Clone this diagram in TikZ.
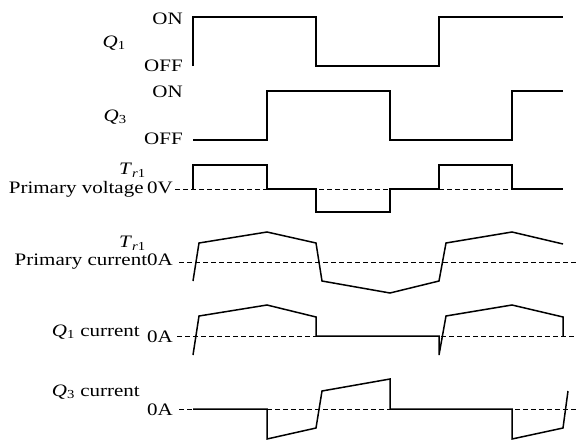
\documentclass[tikz,border=0pt]{standalone}
\usepackage{fontspec}
\setmainfont{Liberation Serif}
\usetikzlibrary{positioning}

\begin{document}
\begin{tikzpicture}[x=1pt,y=-1pt,
    wave/.style={line width=1.5pt,line join=miter},
    zero/.style={dash pattern=on 4.5pt off 3.5pt,line width=0.8pt},
    lbl/.style={font=\fontsize{17.5}{20}\selectfont,inner sep=0pt,xscale=1.2,anchor=east}]
  \useasboundingbox (0,0) rectangle (576,440);

  \foreach \name/\txt/\xx/\yy in {on1/ON/183/19, off1/OFF/183/66, q1/{\textit{Q}\textsubscript{1}}/126/43,
      on3/ON/183/92, off3/OFF/183/139, q3/{\textit{Q}\textsubscript{3}}/127/117,
      trv/{\textit{T}\textsubscript{\textit{r}1}}/146/170, pv/{Primary voltage\,0V}/173/189,
      tri/{\textit{T}\textsubscript{\textit{r}1}}/146/243, pc/{Primary current0A}/173/262,
      q1c/{\textit{Q}\textsubscript{1} current}/140/332, q1z/0A/173/337,
      q3c/{\textit{Q}\textsubscript{3} current}/140/392, q3z/0A/173/410}
    \node[lbl] (\name) at (\xx,\yy) {\txt};

  \coordinate (pvend) at (563,189);
  \coordinate (pcend) at (576,262);
  \coordinate (q1end) at (576,336);
  \coordinate (q3end) at (576,409);
  \draw[zero] ([xshift=2pt]pv.east) -- (pvend);
  \draw[zero] ([xshift=6pt]pc.east) -- (pcend);
  \draw[zero] ([xshift=4pt]q1z.east |- q1end) -- (q1end);
  \draw[zero] ([xshift=6pt]q3z.east |- q3end) -- (q3end);

  \draw[wave] (193,66) |- (316,17) |- (439,66) |- (563,17);
  \draw[wave] (193,140) -| (267,91) -| (390,140) -| (512,91) -- (563,91);
  \draw[wave] (193,189) |- (267,165) |- (316,189) |- (390,212) |- (439,189) |- (512,165) |- (563,189);
  \draw[wave] (193,281) -- (199,243) -- (267,232) -- (316,243) -- (322,281) -- (390,293)
    -- (439,281) -- (446,243) -- (512,232) -- (563,244);
  \draw[wave] (193,355) -- (199,316) -- (267,305) -- (316,317) -- (316,336) -- (439,336)
    -- (439,355) -- (446,316) -- (512,305) -- (563,317) -- (563,336);
  \draw[wave] (193,409) -- (267,409) -- (267,439) -- (316,428) -- (322,391) -- (390,379)
    -- (390,409) -- (512,409) -- (512,439) -- (563,428) -- (568,391);
\end{tikzpicture}
\end{document}
